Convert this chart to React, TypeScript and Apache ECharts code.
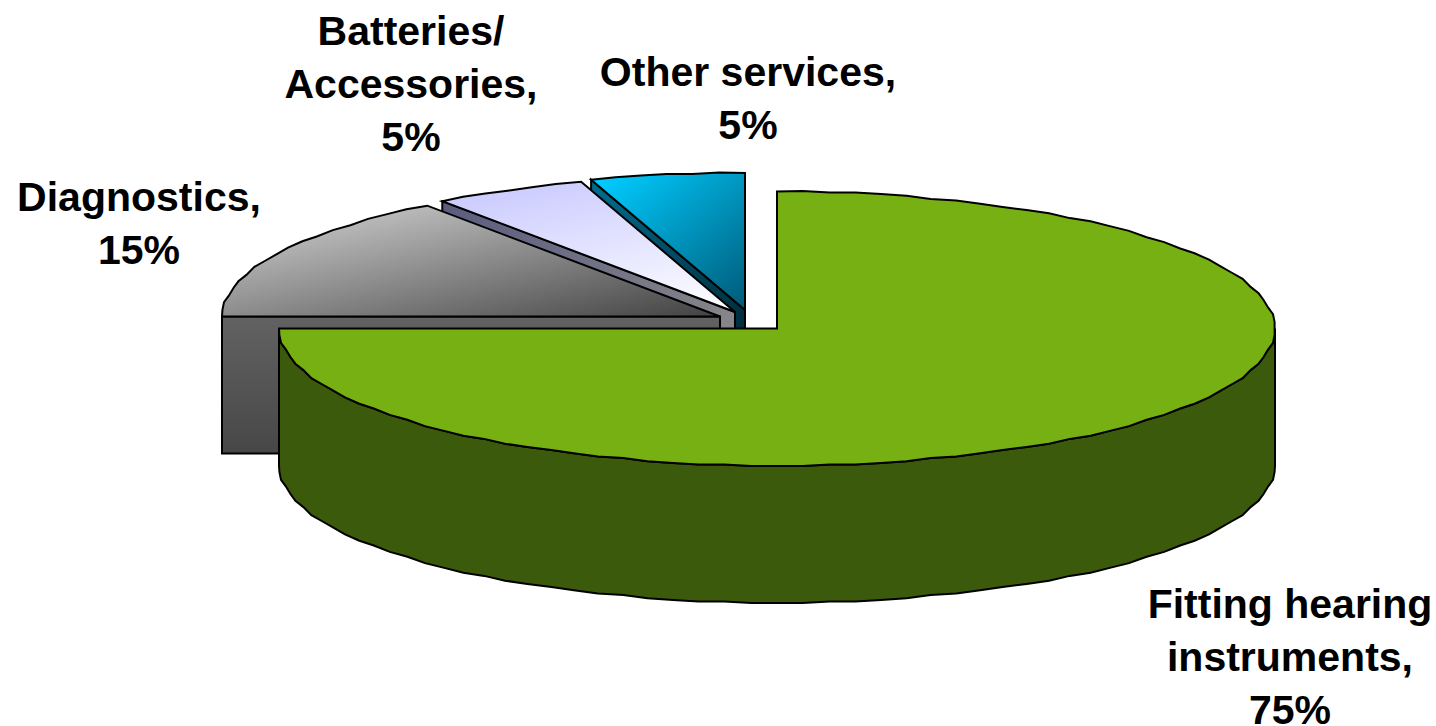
import React, { useEffect, useRef } from "react";
import * as echarts from "echarts";

// Share of activity per service, clockwise from twelve o'clock.
const categories = ["Fitting hearing instruments", "Diagnostics", "Batteries/ Accessories", "Other services"];
const shares = [75, 15, 5, 5];
const labelLines = [
  ["Fitting hearing", "instruments,"],
  ["Diagnostics,"],
  ["Batteries/", "Accessories,"],
  ["Other services,"],
];

// Projected pie geometry, in pixels.
const RX = 498;
const RY = 137;
const DEPTH = 137;
const BASE_CENTER = [777, 328.5];
// Offset of each exploded slice from the pie's centre.
const EXPLODE = [
  [0, 0],
  [-57, -12],
  [-42, -16.5],
  [-32, -18.5],
];
// Centre of the first line of each label.
const LABEL_POS = [
  [1290, 604],
  [139, 197],
  [411, 31],
  [748, 72],
];
const LINE_STEP = 53;
// Fills: a flat colour, or [from, to, x1, y1, x2, y2] with the gradient's ends
// given in pixels from the slice's apex.
const TOP_FILL = [
  "#76b012",
  ["#bcbcbc", "#3f3f3f", -290, -117, -251, 60],
  ["#ccccff", "#ffffff", -215, -127, -178, 39],
  ["#00ccff", "#005a78", -145, -130, -23, 18],
];
const WALL_FILL = [
  "#3c5a0b",
  ["#626262", "#474747", 0, 0, 0, 137],
  ["#5c5c80", "#85858a", -290, -107, -5, 8],
  ["#006b8c", "#002f3f", -145, -125, -5, 10],
];

const toFill = (f: any, cx: number, cy: number) =>
  typeof f === "string"
    ? f
    : new echarts.graphic.LinearGradient(
        cx + f[2],
        cy + f[3],
        cx + f[4],
        cy + f[5],
        [
          { offset: 0, color: f[0] },
          { offset: 1, color: f[1] },
        ],
        true
      );

const rad = (deg: number) => (deg * Math.PI) / 180;

// Rim vertices sit on whole multiples of the step and are snapped to a fine
// grid, so the outline stays faceted and the wall's edge follows the top face.
const STEP = 3;
const GRID = 1.6;
const snap = (v: number) => Math.round(v / GRID) * GRID;

function rimPoints(cx: number, cy: number, from: number, to: number) {
  const angles = [from];
  for (let a = Math.ceil(from / STEP + 0.01) * STEP; a < to; a += STEP) angles.push(a);
  angles.push(to);
  return angles.map((deg, i) => {
    const a = rad(deg);
    const x = RX * Math.sin(a);
    const y = RY * Math.cos(a);
    const ends = i === 0 || i === angles.length - 1;
    return [cx + (ends ? x : snap(x)), cy - (ends ? y : snap(y))];
  });
}

export default function App() {
  const ref = useRef<HTMLDivElement>(null);

  useEffect(() => {
    const chart = echarts.init(ref.current!, null, { renderer: "svg" });
    const total = shares.reduce((a, b) => a + b, 0);
    const startAngle = shares.map((_, i) => (shares.slice(0, i).reduce((a, b) => a + b, 0) / total) * 360);
    const endAngle = shares.map((v, i) => startAngle[i] + (v / total) * 360);
    const line = { stroke: "#000000", lineWidth: 2, lineJoin: "miter" as const };

    const renderItem = (_: any, api: any) => {
      const i = api.value(0) as number;
      const cx = BASE_CENTER[0] + EXPLODE[i][0];
      const cy = BASE_CENTER[1] + EXPLODE[i][1];
      const a0 = startAngle[i];
      const a1 = endAngle[i];
      const children: any[] = [];
      const wallStyle = { ...line, fill: toFill(WALL_FILL[i], cx, cy) };

      // Radial wall, visible when the slice starts on the left half.
      if (a0 > 180) {
        const ox = cx + RX * Math.sin(rad(a0));
        const oy = cy - RY * Math.cos(rad(a0));
        children.push({
          type: "polygon",
          shape: { points: [[cx, cy], [ox, oy], [ox, oy + DEPTH], [cx, cy + DEPTH]] },
          style: wallStyle,
        });
      }
      // Rim wall along the front half of the ellipse.
      const wallFrom = Math.max(a0, 90);
      const wallTo = Math.min(a1, 270);
      if (wallTo > wallFrom) {
        const upper = rimPoints(cx, cy, wallFrom, wallTo);
        const lower = rimPoints(cx, cy + DEPTH, wallFrom, wallTo).reverse();
        children.push({ type: "polygon", shape: { points: [...upper, ...lower] }, style: wallStyle });
      }
      // Top face.
      children.push({
        type: "polygon",
        shape: { points: [[cx, cy], ...rimPoints(cx, cy, a0, a1)] },
        style: { ...line, fill: toFill(TOP_FILL[i], cx, cy) },
      });
      // Category and percentage label, one element per line.
      [...labelLines[i], `${shares[i]}%`].forEach((text, n) => {
        children.push({
          type: "text",
          style: {
            text,
            x: LABEL_POS[i][0],
            y: LABEL_POS[i][1] + n * LINE_STEP,
            align: "center",
            verticalAlign: "middle",
            fill: "#000000",
            font: 'bold 41px "Liberation Sans", Arial, sans-serif',
            lineHeight: 30,
          },
        });
      });
      return { type: "group", children };
    };

    chart.setOption({
      animation: false,
      backgroundColor: "#ffffff",
      series: [
        {
          type: "custom",
          coordinateSystem: "none",
          silent: true,
          clip: false,
          renderItem,
          // Painted back to front so nearer slices cover the walls behind them.
          data: categories.map((name, i) => ({ name, value: [i, shares[i]] })).reverse(),
        },
      ],
    });
    return () => chart.dispose();
  }, []);

  return <div ref={ref} style={{ position: "absolute", left: 0, top: 0, width: 1436, height: 726 }} />;
}
